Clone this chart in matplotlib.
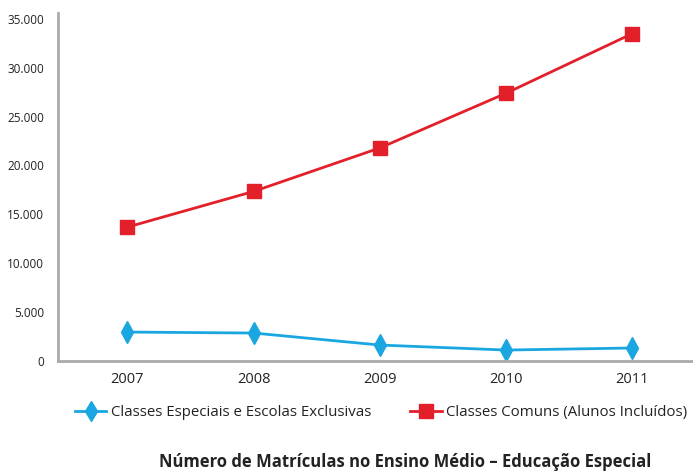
import matplotlib
matplotlib.use("Agg")
import matplotlib.pyplot as plt
from matplotlib.ticker import FuncFormatter

years = ["2007", "2008", "2009", "2010", "2011"]
especiais = [2960, 2860, 1630, 1120, 1330]
comuns = [13700, 17350, 21800, 27400, 33500]
yticks = [0, 5000, 10000, 15000, 20000, 25000, 30000, 35000]

plt.rcParams['font.family'] = ['Open Sans', 'DejaVu Sans']

fig = plt.figure(figsize=(6.93, 4.73), dpi=100)
ax = fig.add_axes([0.0837, 0.2368, 0.92, 0.7357])

x = list(range(len(years)))
blue = "#1aa7e1"
red = "#e3202a"
ax.plot(x, especiais, color=blue, lw=2, marker="d", ms=11, mec=blue, mfc=blue,
        label="Classes Especiais e Escolas Exclusivas", clip_on=False)
ax.plot(x, comuns, color=red, lw=2, marker="s", ms=9.5, mec=red, mfc=red,
        label="Classes Comuns (Alunos Incluídos)", clip_on=False)

ax.set_xlim(-0.55, 4.5)
ax.set_ylim(0, 35600)
ax.set_xticks(x)
ax.set_xticklabels(years)
ax.set_yticks(yticks)
ax.yaxis.set_major_formatter(FuncFormatter(lambda v, p: "0" if v == 0 else f"{int(v):,}".replace(",", ".")))
ax.tick_params(axis="y", length=0, pad=10, labelsize=8.5, labelcolor="#222222")
ax.tick_params(axis="x", length=0, pad=8, labelsize=10.5, labelcolor="#222222")
for s in ["top", "right"]:
    ax.spines[s].set_visible(False)
for s in ["left", "bottom"]:
    ax.spines[s].set_color("#aaaaaa")
    ax.spines[s].set_linewidth(2)

leg = fig.legend(loc="center", bbox_to_anchor=(0.55, 0.127), ncol=2, frameon=False,
                 fontsize=10.8, handlelength=2.1, columnspacing=2.6, handletextpad=0.3,
                 labelcolor="#222222")
for h in leg.legend_handles:
    h.set_markersize(10)

fig.text(0.584, 0.023, "Número de Matrículas no Ensino Médio – Educação Especial",
         ha="center", va="center", fontsize=12, fontweight="bold", color="#222222")

fig.savefig("out.png", dpi=100)
